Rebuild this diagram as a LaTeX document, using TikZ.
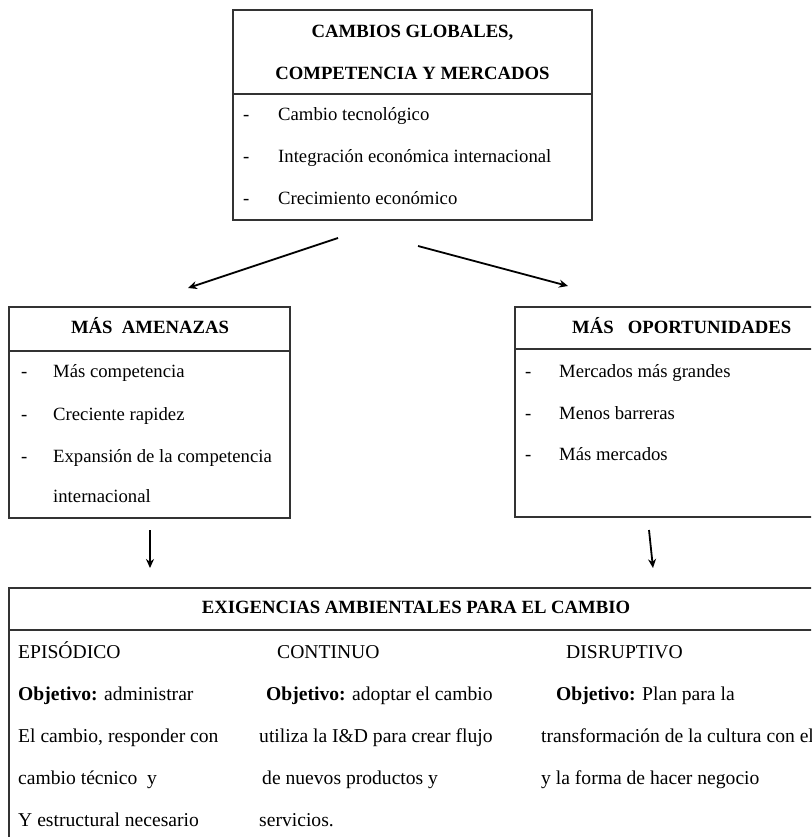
\documentclass[tikz,border=0pt]{standalone}
\usepackage{fontspec}
\setmainfont{Liberation Serif}
\usepackage{tikz}
\usetikzlibrary{arrows.meta}

\tikzset{
  boxline/.style={draw=black!80, line width=1.2pt},
  flecha/.style={-{Stealth[length=9pt,width=8pt]}, line width=1.8pt},
  txt/.style={inner sep=0pt, anchor=mid west, font=\fontsize{18.7}{22}\selectfont},
  coltxt/.style={txt, font=\fontsize{19.6}{23}\selectfont},
  titulo/.style={inner sep=0pt, anchor=mid, font=\fontsize{18.7}{22}\selectfont\bfseries},
}

\begin{document}
\begin{tikzpicture}[x=1pt,y=-1pt]
    \useasboundingbox (0,0) rectangle (811,837);
    \clip (0,0) rectangle (811,837);

    % Top box
    \draw[boxline] (233,10) rectangle (592,220);
    \draw[boxline] (233,94) -- (592,94);
    \node[titulo] (gtit1) at (412.5,35) {CAMBIOS GLOBALES,};
    \node[titulo] (gtit2) at (412.5,77) {COMPETENCIA Y MERCADOS};
    \foreach \n/\y/\t in {1/118/Cambio tecnológico, 2/160/Integración económica internacional, 3/202/Crecimiento económico} {
      \node[txt] (gdash\n) at (243,\y) {-};
      \node[txt] (gitem\n) at (278,\y) {\t};
    }

    % Left box
    \draw[boxline] (9,307) rectangle (290,518);
    \draw[boxline] (9,351) -- (290,351);
    \node[titulo] (atit) at (150,331) {MÁS\ \ AMENAZAS};
    \foreach \n/\y/\t in {1/375/Más competencia, 2/418/Creciente rapidez, 3/460/Expansión de la competencia} {
      \node[txt] (adash\n) at (21,\y) {-};
      \node[txt] (aitem\n) at (53,\y) {\t};
    }
    \node[txt] (aitem4) at (53,500) {internacional};

    % Right box
    \draw[boxline] (515,307) rectangle (830,517);
    \draw[boxline] (515,349) -- (830,349);
    \node[titulo, anchor=mid west] (otit) at (572,331) {MÁS\ \ \ OPORTUNIDADES};
    \foreach \n/\y/\t in {1/375/Mercados más grandes, 2/417/Menos barreras, 3/458/Más mercados} {
      \node[txt] (odash\n) at (525,\y) {-};
      \node[txt] (oitem\n) at (559,\y) {\t};
    }

    % Arrows
    \coordinate (sA) at (338,238);
    \coordinate (eA) at (188,288);
    \coordinate (sO) at (418,246);
    \coordinate (eO) at (568,286);
    \coordinate (sA2) at (150,530);
    \coordinate (eA2) at (150,568);
    \coordinate (sO2) at (649,530);
    \coordinate (eO2) at (653,568);
    \draw[flecha] (sA) -- (eA);
    \draw[flecha] (sO) -- (eO);
    \draw[flecha] (sA2) -- (eA2);
    \draw[flecha] (sO2) -- (eO2);

    % Bottom box
    \draw[boxline] (9,588) rectangle (830,850);
    \draw[boxline] (9,630) -- (830,630);
    \node[titulo] (etit) at (416,611) {EXIGENCIAS AMBIENTALES PARA EL CAMBIO};

    % Columns
    \foreach \n/\x/\y/\t in {1/18/656/EPISÓDICO, 2/18/698/{{\bfseries Objetivo:} administrar}, 3/18/740/{El cambio, responder con}, 4/18/782/cambio técnico\ \ y, 5/18/824/Y estructural necesario} {
      \node[coltxt] (epi\n) at (\x,\y) {\t};
    }
    \foreach \n/\x/\y/\t in {1/277/656/CONTINUO, 2/266/698/{{\bfseries Objetivo:} adoptar el cambio}, 3/259/740/utiliza la I\&D para crear flujo, 4/262/782/de nuevos productos y, 5/259/824/servicios.} {
      \node[coltxt] (con\n) at (\x,\y) {\t};
    }
    \foreach \n/\x/\y/\t in {1/566/656/DISRUPTIVO, 2/556/698/{{\bfseries Objetivo:} Plan para la}, 3/541/740/transformación de la cultura con el, 4/541/782/y la forma de hacer negocio} {
      \node[coltxt] (dis\n) at (\x,\y) {\t};
    }

\end{tikzpicture}
\end{document}
